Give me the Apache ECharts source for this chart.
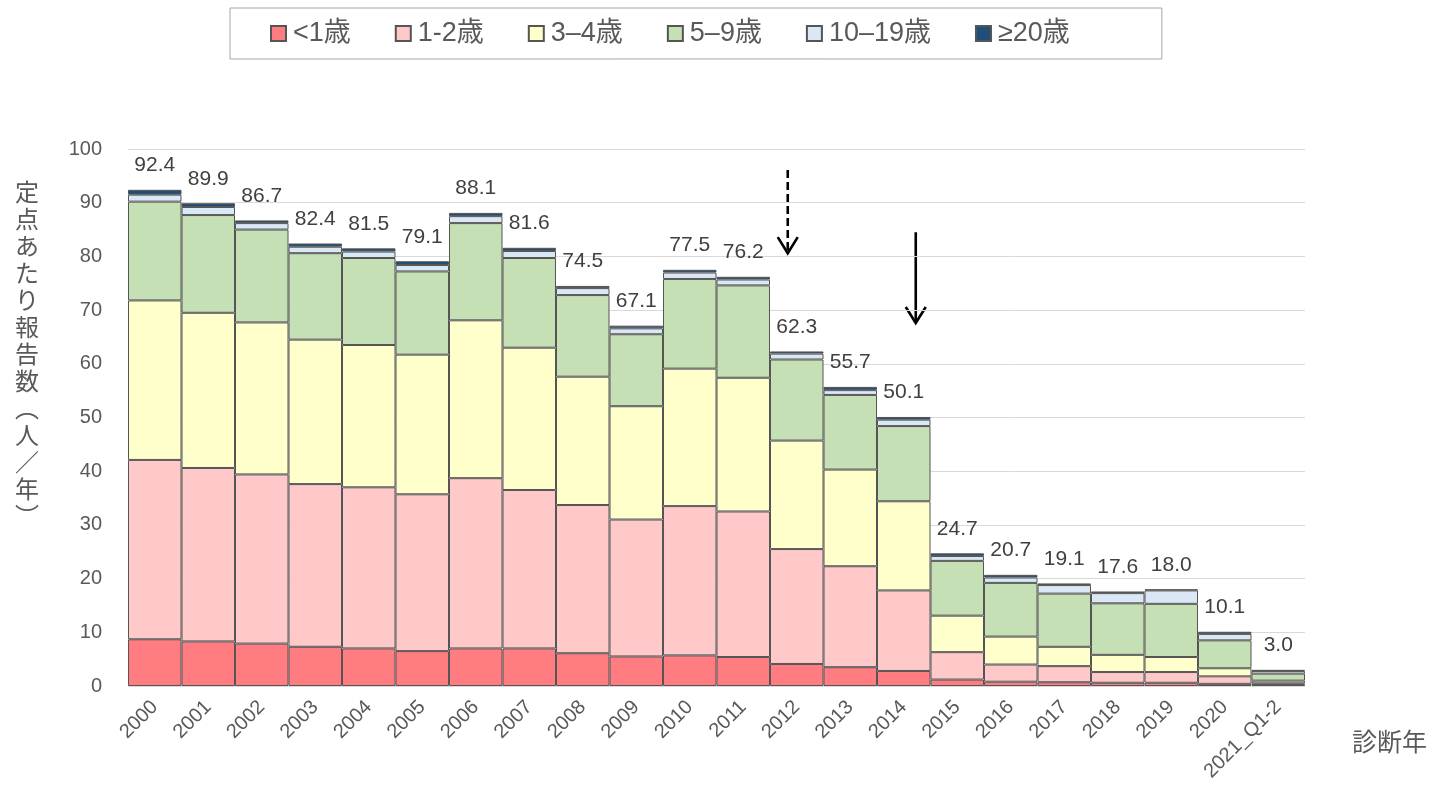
<!DOCTYPE html>
<html>
<head>
<meta charset="utf-8">
<script src="https://cdn.jsdelivr.net/npm/echarts@6/dist/echarts.min.js"></script>
<style>
  html, body { margin: 0; padding: 0; background: #fff; }
  #chart { width: 1435px; height: 791px; }
</style>
</head>
<body>
<div id="chart"></div>
<script>
// 診断年
var years = ['2000', '2001', '2002', '2003', '2004', '2005', '2006', '2007', '2008', '2009', '2010',
             '2011', '2012', '2013', '2014', '2015', '2016', '2017', '2018', '2019', '2020', '2021_Q1-2'];
// 年齢群ごとの定点あたり報告数
var under1   = [8.7, 8.3, 7.9, 7.3, 7.0, 6.5, 7.0, 7.0, 6.1, 5.5, 5.7, 5.4, 4.1, 3.5, 2.8, 1.2, 0.8, 0.7, 0.6, 0.6, 0.4, 0.2];
var age1to2  = [33.4, 32.3, 31.5, 30.3, 30.0, 29.2, 31.7, 29.5, 27.6, 25.5, 27.8, 27.1, 21.4, 18.8, 15.0, 5.1, 3.2, 3.0, 2.0, 2.0, 1.4, 0.3];
var age3to4  = [29.7, 28.9, 28.3, 26.9, 26.5, 26.0, 29.4, 26.5, 23.9, 21.1, 25.6, 24.9, 20.2, 18.0, 16.6, 6.8, 5.2, 3.6, 3.2, 2.8, 1.5, 0.5];
var age5to9  = [18.4, 18.2, 17.3, 16.1, 16.2, 15.5, 18.1, 16.7, 15.2, 13.4, 16.7, 17.2, 15.1, 13.9, 14.0, 10.2, 10.0, 9.9, 9.6, 9.9, 5.2, 1.3];
var age10to19 = [1.3, 1.5, 1.2, 1.2, 1.2, 1.2, 1.3, 1.3, 1.3, 1.1, 1.2, 1.1, 1.1, 0.9, 1.2, 0.9, 1.0, 1.6, 1.9, 2.5, 1.2, 0.5];
var age20plus = [0.9, 0.7, 0.5, 0.6, 0.6, 0.7, 0.6, 0.6, 0.4, 0.5, 0.5, 0.5, 0.4, 0.6, 0.5, 0.5, 0.5, 0.3, 0.3, 0.2, 0.4, 0.2];
var totals   = [92.4, 89.9, 86.7, 82.4, 81.5, 79.1, 88.1, 81.6, 74.5, 67.1, 77.5, 76.2, 62.3, 55.7, 50.1, 24.7, 20.7, 19.1, 17.6, 18.0, 10.1, 3.0];
var yTicks = [0, 10, 20, 30, 40, 50, 60, 70, 80, 90, 100];

var FONT = '"Liberation Sans", Arial, "Noto Sans CJK JP", sans-serif';
var chart = echarts.init(document.getElementById('chart'));

function seg(name, data, color) {
    return {
        name: name,
        type: 'bar',
        stack: 'total',
        data: data,
        barCategoryGap: '0%',
        itemStyle: { color: color, borderColor: '#555555', borderWidth: 1 }
    };
}

var series = [
    seg('<1歳', under1, '#FF7C80'),
    seg('1-2歳', age1to2, '#FFC9C9'),
    seg('3–4歳', age3to4, '#FFFFCC'),
    seg('5–9歳', age5to9, '#C5E0B4'),
    seg('10–19歳', age10to19, '#DAE7F5'),
    seg('≥20歳', age20plus, '#1F4E79')
];
// 合計値ラベルは最上段に付ける
series[5].label = {
    show: true,
    position: 'top',
    distance: 14,
    fontSize: 21,
    fontFamily: FONT,
    color: '#404040',
    formatter: function (p) { return totals[p.dataIndex].toFixed(1); }
};

var option = {
    backgroundColor: '#fff',
    animation: false,
    textStyle: { fontFamily: FONT },
    legend: {
        left: 230,
        top: 8,
        padding: [12, 92, 12, 40],
        borderColor: '#a6a6a6',
        borderWidth: 1,
        itemWidth: 15,
        itemHeight: 15,
        itemGap: 44,
        icon: 'rect',
        textStyle: { fontSize: 27, color: '#595959', fontFamily: FONT, padding: [0, 0, 0, 2] },
        data: ['<1歳', '1-2歳', '3–4歳', '5–9歳', '10–19歳', '≥20歳']
    },
    grid: { left: 128, right: 130, top: 149, bottom: 105 },
    xAxis: {
        type: 'category',
        data: years,
        axisLine: { lineStyle: { color: '#d9d9d9' } },
        axisTick: { show: false },
        axisLabel: { rotate: 45, fontSize: 20, color: '#595959', margin: 18, interval: 0 }
    },
    yAxis: {
        type: 'value',
        min: yTicks[0],
        max: yTicks[yTicks.length - 1],
        interval: 10,
        axisLine: { show: false },
        axisTick: { show: false },
        splitLine: { lineStyle: { color: '#d9d9d9' } },
        axisLabel: { fontSize: 20, color: '#595959', margin: 26 }
    },
    series: series,
    graphic: [
        {
            type: 'text',
            left: 15,
            top: 178,
            style: {
                text: '定\n点\nあ\nた\nり\n報\n告\n数\n︵\n人\n／\n年\n︶',
                fontSize: 24,
                lineHeight: 27,
                fill: '#595959',
                align: 'center',
                fontFamily: '"Noto Sans CJK JP", sans-serif'
            }
        },
        {
            type: 'text',
            left: 1352,
            top: 729,
            style: {
                text: '診断年',
                fontSize: 25,
                fill: '#595959',
                fontFamily: '"Noto Sans CJK JP", sans-serif'
            }
        }
    ]
};
chart.setOption(option);

// 矢印（注記）
function arrow(cat, yFrom, yTo, dx, dashed) {
    var p1 = chart.convertToPixel({ gridIndex: 0 }, [cat, yFrom]);
    var p2 = chart.convertToPixel({ gridIndex: 0 }, [cat, yTo]);
    var x = p1[0] + dx;
    return {
        type: 'group',
        children: [
            {
                type: 'line',
                shape: { x1: x, y1: p1[1], x2: x, y2: p2[1] - 2 },
                style: { stroke: '#000', lineWidth: 2.6, lineDash: dashed ? [8, 4] : null }
            },
            {
                type: 'polyline',
                shape: { points: [[x - 10, p2[1] - 16], [x, p2[1]], [x + 10, p2[1] - 16]] },
                style: { stroke: '#000', lineWidth: 2.6, fill: null }
            }
        ]
    };
}
chart.setOption({
    graphic: option.graphic.concat([
        arrow('2012', 96.1, 80.6, -9, true),
        arrow('2014', 84.5, 67.6, 12, false)
    ])
});
</script>
</body>
</html>
